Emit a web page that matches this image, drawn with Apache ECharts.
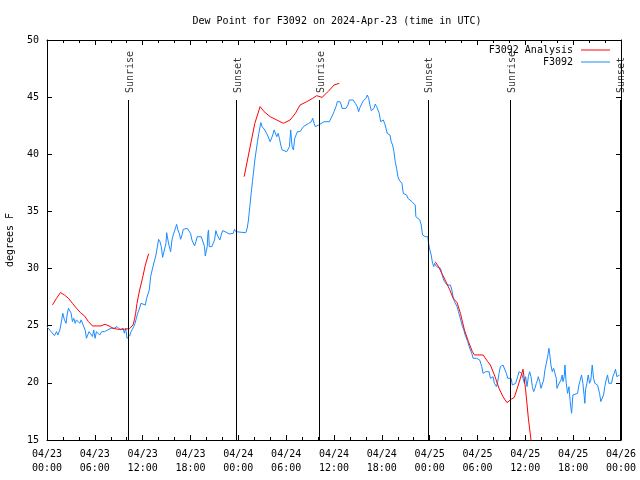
<!DOCTYPE html>
<html><head><meta charset="utf-8">
<script src="https://cdn.jsdelivr.net/npm/echarts@6/dist/echarts.min.js"></script>
<style>html,body{margin:0;padding:0;background:#fff}#c{width:640px;height:480px}</style>
</head><body><div id="c"></div>
<script>
const titleText = 'Dew Point for F3092 on 2024-Apr-23 (time in UTC)';
const xTickLabels = ['04/23\n00:00','04/23\n06:00','04/23\n12:00','04/23\n18:00','04/24\n00:00','04/24\n06:00','04/24\n12:00','04/24\n18:00','04/25\n00:00','04/25\n06:00','04/25\n12:00','04/25\n18:00','04/26\n00:00'];
const eventHours = [10.23, 23.77, 34.17, 47.8, 58.15, 71.9];
const eventNames = ['Sunrise','Sunset','Sunrise','Sunset','Sunrise','Sunset'];

const obsHours = [0.0,0.19,0.52,0.94,1.19,1.36,1.61,1.77,1.98,2.19,2.40,2.52,2.69,2.86,3.03,3.19,3.36,3.53,3.69,3.86,4.11,4.28,4.53,4.78,4.95,5.11,5.28,5.45,5.70,5.86,6.03,6.20,6.37,6.62,6.87,7.20,7.45,7.62,7.87,8.03,8.28,8.45,8.62,8.79,9.04,9.20,9.37,9.54,9.70,9.87,10.04,10.20,10.37,10.54,10.71,10.87,
11.04,11.21,11.37,11.54,11.79,12.00,12.33,12.50,12.83,13.00,13.34,13.67,14.00,14.17,14.34,14.50,14.75,14.92,15.01,15.17,15.34,15.51,15.67,15.84,16.01,16.17,16.26,16.42,16.59,16.76,16.93,17.09,17.59,17.84,18.01,18.18,18.34,18.51,18.68,18.84,19.35,19.60,19.76,19.85,20.01,20.10,20.18,20.26,20.35,20.68,20.93,21.02,21.18,21.35,21.68,21.85,22.02,22.35,22.85,23.10,23.35,23.52,23.69,23.94,24.44,24.94,25.11,25.27,25.44,25.61,25.77,
26.07,26.40,26.57,26.82,26.98,27.15,27.32,27.49,27.65,27.82,27.99,28.15,28.32,28.49,28.65,28.82,28.99,29.15,29.32,29.49,29.66,30.07,30.24,30.41,30.57,30.74,30.91,31.07,31.24,31.41,31.74,31.99,32.16,32.33,32.49,32.66,32.83,32.99,33.16,33.33,33.50,33.66,33.91,34.08,34.25,34.75,35.42,35.67,35.83,36.00,36.25,36.42,36.58,36.75,36.92,37.00,37.50,37.75,37.92,38.17,38.42,38.67,38.92,39.09,39.26,
39.51,39.68,40.01,40.18,40.35,40.51,40.68,40.85,41.01,41.18,41.35,41.51,41.68,41.85,42.01,42.18,42.35,42.52,42.68,42.85,43.02,43.18,43.35,43.52,43.68,43.85,44.02,44.18,44.52,44.69,45.10,45.27,45.52,45.77,45.94,46.19,46.27,46.44,46.77,46.94,47.11,47.44,47.77,47.86,48.02,
48.19,48.36,48.52,48.61,48.86,49.11,49.36,49.52,49.69,49.86,50.19,50.61,50.78,50.94,51.11,51.28,51.44,51.61,51.78,51.95,52.11,52.28,52.45,52.61,52.78,52.95,53.11,53.28,53.45,53.87,54.28,54.53,54.70,54.87,55.03,55.20,55.45,55.62,55.78,55.95,56.12,56.37,56.54,56.70,56.87,57.20,57.45,57.62,57.79,58.04,58.21,58.37,58.54,58.79,59.04,59.21,59.37,59.54,59.71,59.88,60.04,60.21,60.38,60.54,60.71,60.88,61.04,61.21,61.38,61.54,61.63,61.80,61.96,62.13,62.30,62.46,62.63,62.80,62.96,63.05,63.21,63.38,63.55,63.71,63.88,63.97,64.13,64.30,64.47,64.63,64.72,64.88,64.97,65.13,65.30,65.47,65.63,65.80,65.97,66.14,66.55,66.72,66.89,67.05,67.22,67.39,67.47,67.55,67.72,67.89,68.06,68.22,68.39,68.56,68.72,68.89,69.06,69.31,69.47,69.64,69.81,69.97,70.14,70.31,70.48,70.64,70.81,70.98,71.14,71.31,71.48,71.64,71.81];
const obsValues = [24.9,24.78,24.48,24.13,24.48,24.19,24.63,25.21,26.09,25.51,25.21,25.94,26.53,26.61,26.09,25.36,25.65,25.21,25.51,25.65,25.21,25.51,25.07,24.63,23.90,24.19,24.48,24.63,24.05,24.63,23.90,24.48,24.63,24.19,24.48,24.48,24.34,24.63,24.48,24.78,24.63,24.78,24.63,24.92,24.92,24.63,24.48,24.78,24.34,24.78,23.90,23.90,24.11,24.48,24.69,24.92,
25.21,25.65,26.09,26.38,26.96,27.11,26.81,27.40,28.13,29.29,30.31,31.19,32.56,32.35,31.92,30.98,30.98,32.21,33.14,32.50,31.92,31.48,32.50,32.94,33.08,33.67,33.87,33.38,33.08,32.56,32.94,33.43,33.52,33.52,33.08,32.50,32.35,31.98,32.35,32.79,32.79,32.73,31.92,31.10,31.10,31.92,33.08,33.38,31.92,31.92,31.77,32.50,33.32,32.94,32.50,32.94,33.32,33.23,33.03,33.03,33.08,33.43,33.23,33.23,33.17,33.14,33.52,34.25,35.42,36.58,37.6,
39.50,41.10,41.83,42.77,42.42,42.56,42.13,42.27,41.69,41.83,41.10,41.10,41.69,42.13,41.98,41.54,41.83,41.40,40.81,40.38,40.52,40.23,40.08,40.67,42.13,40.67,40.38,41.40,41.69,41.98,41.98,42.13,42.42,42.27,42.56,42.42,42.71,42.56,42.85,43.15,42.71,42.42,42.27,42.56,42.71,42.85,42.85,43.00,43.44,43.73,44.17,44.60,44.46,44.60,44.31,44.02,44.02,44.31,44.75,44.81,44.75,44.46,44.17,43.73,44.1,
44.46,44.69,44.90,45.19,44.90,44.31,43.82,43.82,44.02,44.40,44.17,43.88,43.58,42.85,42.71,43.00,42.71,42.27,41.83,41.98,41.69,41.10,40.81,40.23,39.36,38.77,38.04,37.75,37.46,36.58,36.44,36.15,36.00,35.86,35.71,35.56,34.54,34.40,34.25,33.81,32.94,32.79,32.79,32.21,31.63,
31.19,30.46,30.17,30.46,30.17,30.17,30.02,29.58,29.15,28.85,28.56,28.56,28.13,27.54,27.10,26.96,26.67,26.23,25.79,25.36,24.92,24.63,24.19,24.33,23.61,23.17,23.02,22.58,22.15,22.15,22.00,21.42,20.83,20.69,20.98,21.13,20.98,20.40,20.25,20.54,19.96,19.67,20.11,20.83,21.42,21.56,21.42,20.83,20.40,20.25,20.40,19.81,19.81,19.96,20.54,20.98,21.07,20.83,20.40,19.96,20.54,19.67,20.54,20.98,20.54,19.67,19.23,19.52,19.96,20.25,20.54,20.11,19.52,19.52,20.25,21.13,21.71,22.29,23.02,22.58,21.56,20.98,21.27,21.42,20.40,19.52,19.81,19.96,20.25,20.69,20.11,20.54,21.56,19.96,19.08,19.67,18.36,17.34,18.94,19.08,19.08,19.81,20.25,20.69,19.96,18.79,18.21,19.38,19.96,20.69,19.96,20.25,21.56,20.40,19.96,20.11,19.81,19.08,18.36,18.21,18.94,19.67,20.25,20.69,19.96,19.81,19.96,20.54,20.83,21.19,20.54,20.54,20.69];

// analysis: null marks a gap between runs
const anaHours = [0.69,1.19,1.69,2.19,2.69,3.19,3.69,4.19,4.70,5.20,5.70,6.37,6.78,7.28,7.78,8.28,8.87,9.70,10.37,10.62,10.79,10.96,11.12,11.29,11.62,11.96,12.33,12.75,
13.5,
24.73,25.40,26.07,26.73,27.23,27.99,28.82,29.66,30.49,31.16,31.74,32.58,33.33,33.83,34.50,34.75,35.33,36.00,36.67,
40.0,
48.69,49.11,49.52,49.94,50.53,50.94,51.44,51.86,52.36,52.86,53.36,53.61,54.70,55.28,55.62,56.20,56.70,57.20,57.70,58.29,58.62,59.12,59.54,59.71,60.04,60.38,60.71,61.0];
const anaValues = [26.82,27.40,27.90,27.69,27.40,26.96,26.53,26.15,25.86,25.36,24.98,24.98,24.98,25.13,24.98,24.78,24.69,24.69,24.75,24.83,25.07,25.51,26.09,26.96,28.13,29.1,30.3,31.3,
null,
38.04,40.38,42.71,44.17,43.73,43.29,43.00,42.71,43.00,43.58,44.31,44.60,44.90,45.13,44.98,44.90,45.54,46.06,46.21,
null,
30.60,30.17,29.58,29.00,28.13,27.40,27.02,26.08,24.63,23.61,22.73,22.44,22.44,21.86,21.56,20.54,19.52,18.79,18.27,18.59,18.73,19.81,20.78,21.19,19.38,16.90,15.00,13.3];

const FONT = 'DejaVu Sans Mono';
const txt = {color:'#000', fontFamily: FONT, fontSize: 10};
const chart = echarts.init(document.getElementById('c'), null, {renderer:'canvas'});
const xBase = {type:'value', min:0, max:72, interval:6,
  axisLine:{show:true, onZero:false, lineStyle:{color:'#000', width:1}},
  axisTick:{show:true, inside:true, length:5, lineStyle:{color:'#000'}},
  minorTick:{show:true, splitNumber:3, length:3, lineStyle:{color:'#000'}},
  splitLine:{show:false}};
const yBase = {type:'value', min:15, max:50, interval:5,
  axisLine:{show:true, onZero:false, lineStyle:{color:'#000', width:1}},
  axisTick:{show:true, inside:true, length:5, lineStyle:{color:'#000'}},
  splitLine:{show:false}};
chart.setOption({
  animation:false,
  backgroundColor:'#fff',
  title:{text:titleText, left:332, top:11, textAlign:'center', textStyle:Object.assign({fontWeight:'normal'}, txt)},
  legend:{data:['F3092 Analysis','F3092'], orient:'vertical', right:25, top:39, align:'right',
    itemWidth:29, itemHeight:1, icon:'rect', itemGap:0, textStyle:Object.assign({lineHeight:12, padding:[0,3,0,0]}, txt)},
  grid:{left:47, right:19, top:40, bottom:40, containLabel:false, outerBoundsMode:'none'},
  xAxis:[
    Object.assign({position:'bottom', axisLabel:Object.assign({margin:7, lineHeight:14, formatter:v => xTickLabels[Math.round(v/6)]}, txt)}, xBase),
    Object.assign({position:'top', axisLabel:{show:false}}, xBase)
  ],
  yAxis:[
    Object.assign({position:'left', name:'degrees F', nameLocation:'middle', nameRotate:90, nameGap:32, nameTextStyle:txt, axisLabel:Object.assign({margin:8}, txt)}, yBase),
    Object.assign({position:'right', axisLabel:{show:false}}, yBase)
  ],
  series:[
    {name:'F3092 Analysis', type:'line', data:anaHours.map((h,i)=>[h, anaValues[i]===null?'-':anaValues[i]]),
      showSymbol:false, symbol:'none', connectNulls:false, clip:true, color:'#ff0000', lineStyle:{width:1, color:'#ff0000'}, z:3},
    {name:'F3092', type:'line', data:obsHours.map((h,i)=>[h, obsValues[i]]),
      showSymbol:false, symbol:'none', clip:true, color:'#1a8cff', lineStyle:{width:1, color:'#1a8cff'}, z:2},
    {name:'events', type:'scatter', symbolSize:0, silent:true, z:4,
      data:eventHours.map(h=>[h, 44.75]),
      label:{show:true, formatter:p=>eventNames[p.dataIndex], rotate:90, position:[1.5,-7], align:'left', verticalAlign:'middle', color:'#000', fontFamily:FONT, fontSize:10},
      markLine:{silent:true, symbol:['none','none'], animation:false, label:{show:false},
        lineStyle:{color:'#000', width:1, type:'solid'},
        data:eventHours.map(h=>[{coord:[h,15]},{coord:[h,44.75]}])}}
  ]
});
</script></body></html>
